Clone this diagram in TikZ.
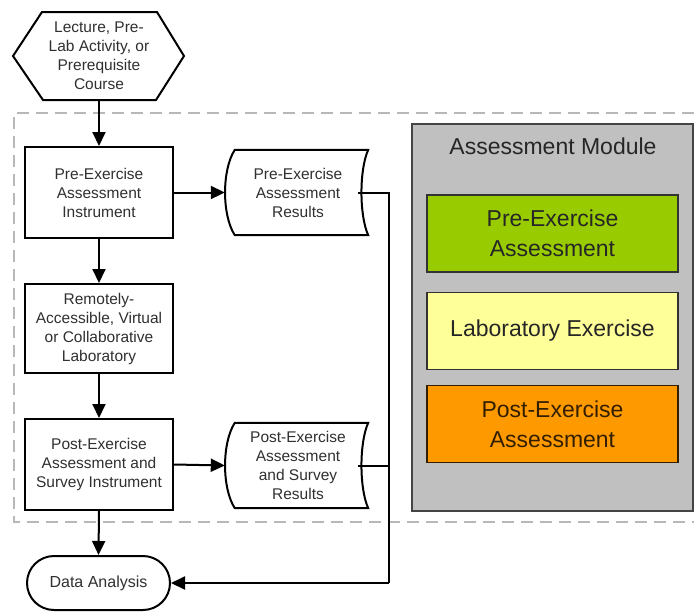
\documentclass[tikz,border=0pt]{standalone}
\usepackage{fontspec}
\setmainfont{Liberation Sans}
\usetikzlibrary{arrows.meta,calc}
\definecolor{txt}{HTML}{303030}
\definecolor{dashgray}{HTML}{B8B8B8}
\definecolor{modgray}{HTML}{C0C0C0}
\definecolor{modedge}{HTML}{444444}
\definecolor{greenbox}{HTML}{99CC00}
\definecolor{yellowbox}{HTML}{FFFF99}
\definecolor{orangebox}{HTML}{FF9900}
\tikzset{
  flow/.style={font=\fontsize{15.5}{19}\selectfont, text=txt, align=center},
  procbox/.style={flow, draw=black, line width=2pt, fill=white, minimum width=148pt, minimum height=91pt, inner sep=0pt},
  docnode/.style={flow, minimum width=143pt, minimum height=85pt, inner sep=0pt},
  modbox/.style={font=\fontsize{23}{30}\selectfont, align=center, line width=1.5pt, minimum width=251pt, minimum height=77pt, inner sep=0pt},
  conn/.style={line width=2pt, draw=black},
  arr/.style={conn, -{Triangle[length=14pt,width=13pt]}},
}
\newcommand{\docshape}[1]{%
  \draw[line width=2pt, fill=white]
    ($(#1.north west)+(10pt,0)$) -- (#1.north east)
    .. controls ($(#1.north east)+(-9pt,-20pt)$) and ($(#1.south east)+(-9pt,20pt)$) .. (#1.south east)
    -- ($(#1.south west)+(10pt,0)$)
    .. controls ($(#1.south west)+(-3pt,20pt)$) and ($(#1.north west)+(-3pt,-20pt)$) .. cycle;}
\begin{document}
\begin{tikzpicture}[x=1pt,y=-1pt]
\useasboundingbox (0,0) rectangle (694,611);
% dashed boundary
\draw[dashgray, line width=2pt, dash pattern=on 12pt off 7pt] (694,113) -- (14,113) -- (14,522) -- (694,522);
% assessment module
\node[draw=modedge, fill=modgray, line width=1.5pt, minimum width=281pt, minimum height=387pt, inner sep=0pt] (mod) at (552.5,317.5) {};
\node[font=\fontsize{23}{28}\selectfont, text=black!85] (modt) at (553,146) {Assessment Module};
\node[modbox, draw=black!80, fill=greenbox, text=black!85] (m1) at (552.5,233.5) {Pre-Exercise\\Assessment};
\node[modbox, draw=black!80, fill=yellowbox, text=black!85] (m2) at (552.5,331) {Laboratory Exercise};
\node[modbox, draw=black!80!orangebox, fill=orangebox, text=black!80!orangebox] (m3) at (552.5,424) {Post-Exercise\\Assessment};
% hexagon start
\draw[line width=2pt, fill=white] (42,12) -- (157,12) -- (184,56) -- (156,100) -- (43,100) -- (13,56) -- cycle;
\node[flow] (start) at (99,56) {Lecture, Pre-\\Lab Activity, or\\Prerequisite\\Course};
\coordinate (startb) at (99,100);
% process boxes
\node[procbox] (pre) at (99,192.5) {Pre-Exercise\\Assessment\\Instrument};
\node[procbox, minimum height=89pt] (lab) at (99,328.5) {Remotely-\\Accessible, Virtual\\or Collaborative\\Laboratory};
\node[procbox] (post) at (99,464.5) {Post-Exercise\\Assessment and\\Survey Instrument};
% documents
\node[docnode] (r1) at (296.5,192.5) {};
\docshape{r1}
\node[flow] (r1t) at (298,192.5) {Pre-Exercise\\Assessment\\Results};
\node[docnode] (r2) at (296.5,465.5) {};
\docshape{r2}
\node[flow] (r2t) at (298,465.5) {Post-Exercise\\Assessment\\and Survey\\Results};
% data analysis terminal
\node[flow, draw=black, line width=2pt, fill=white, rounded corners=27pt, minimum width=143pt, minimum height=54pt, inner sep=0pt, font=\fontsize{16}{19}\selectfont] (da) at (98.5,583) {Data Analysis};
% connectors
\draw[arr] (startb) -- (pre.north);
\draw[arr] (pre.south) -- (lab.north);
\draw[arr] (lab.south) -- (post.north);
\draw[arr] (post.south) -- (da.north);
\draw[arr] (pre.east) -- (r1.west);
\draw[arr] (post.east) -- (r2.west);
\coordinate (corner) at (389,583);
\draw[conn] ($(r1.east)+(-10pt,0)$) -| (corner);
\draw[conn] ($(r2.east)+(-10pt,0)$) -- (r2.east -| corner);
\draw[arr] (corner) -- (da.east);
\end{tikzpicture}
\end{document}
